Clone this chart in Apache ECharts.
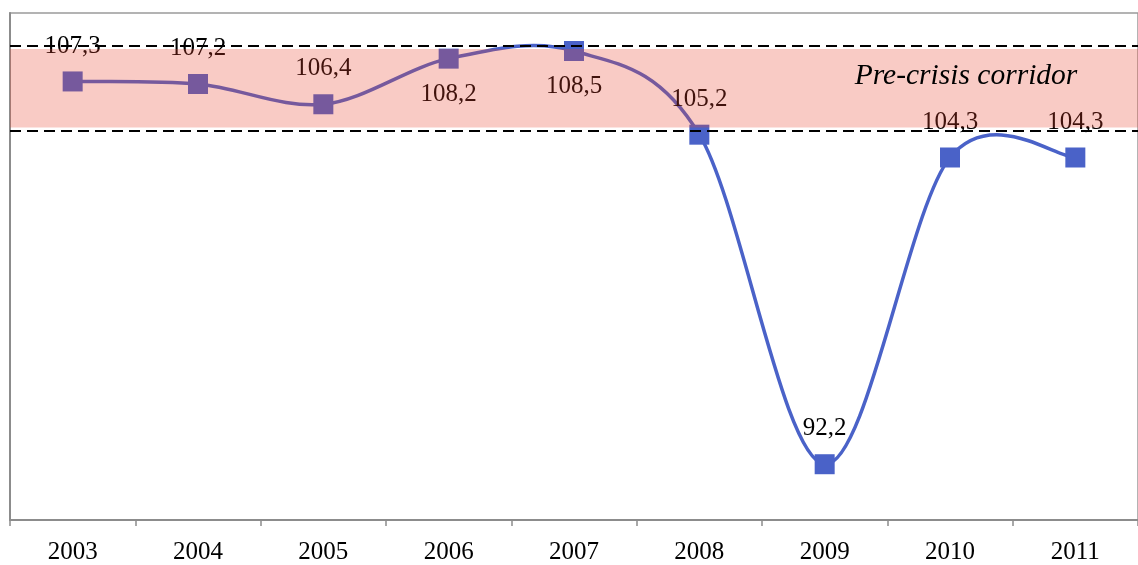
<!DOCTYPE html>
<html>
<head>
<meta charset="utf-8">
<script src="https://cdn.jsdelivr.net/npm/echarts@6/dist/echarts.min.js"></script>
<style>
html,body{margin:0;padding:0;background:#fff;}
#chart{width:1138px;height:565px;}
</style>
</head>
<body>
<div id="chart"></div>
<script>
var years = ['2003','2004','2005','2006','2007','2008','2009','2010','2011'];
var values = [107.3, 107.2, 106.4, 108.2, 108.5, 105.2, 92.2, 104.3, 104.3];
var labelPositions = ['top','top','top','bottom','bottom','top','top','top','top'];
var corridorBand = [105.48, 108.58];
var corridorLines = [105.37, 108.71];
var corridorText = 'Pre-crisis corridor';
var corridorTextAt = ['2010', 107.5];

var chart = echarts.init(document.getElementById('chart'));
var serif = '"Liberation Serif", "Times New Roman", serif';
var lineColor = '#4a62c8';

var lineData = values.map(function (v, i) {
  return { value: v, label: { position: labelPositions[i] } };
});

// Catmull-Rom style smoothed segment (Excel-like smoothing), drawn via axis scales
function renderSegment(params, api) {
  var i = params.dataIndex;
  var n = values.length;
  if (i >= n - 1) return null;
  function pt(j) {
    j = Math.max(0, Math.min(n - 1, j));
    return api.coord([j, values[j]]);
  }
  var p0 = pt(i - 1), p1 = pt(i), p2 = pt(i + 1), p3 = pt(i + 2);
  var t = 1 / 6;
  return {
    type: 'bezierCurve',
    shape: {
      x1: p1[0], y1: p1[1],
      x2: p2[0], y2: p2[1],
      cpx1: p1[0] + (p2[0] - p0[0]) * t,
      cpy1: p1[1] + (p2[1] - p0[1]) * t,
      cpx2: p2[0] - (p3[0] - p1[0]) * t,
      cpy2: p2[1] - (p3[1] - p1[1]) * t
    },
    style: { stroke: lineColor, lineWidth: 3.5, fill: null }
  };
}

chart.setOption({
  animation: false,
  backgroundColor: '#ffffff',
  grid: {
    left: 10, top: 13, bottom: 42, right: -12,
    show: true, borderColor: '#9a9a9a', borderWidth: 1.5, backgroundColor: 'transparent'
  },
  xAxis: {
    type: 'category',
    data: years,
    boundaryGap: true,
    axisLine: { show: true, lineStyle: { color: '#8c8c8c', width: 2 } },
    axisTick: { show: true, length: 6, lineStyle: { color: '#8c8c8c', width: 1.5 } },
    axisLabel: { color: '#000', fontFamily: serif, fontSize: 25, margin: 20 },
    splitLine: { show: false }
  },
  yAxis: {
    type: 'value',
    min: 90, max: 110,
    axisLine: { show: true, lineStyle: { color: '#8c8c8c', width: 2 } },
    axisTick: { show: false },
    axisLabel: { show: false },
    splitLine: { show: false }
  },
  series: [
    {
      type: 'custom',
      z: 1,
      silent: true,
      data: values.map(function (v, i) { return [i, v]; }),
      encode: { x: 0, y: 1 },
      renderItem: renderSegment
    },
    {
      type: 'line',
      z: 2,
      data: lineData,
      symbol: 'rect',
      symbolSize: 20,
      lineStyle: { width: 0, opacity: 0 },
      itemStyle: { color: lineColor },
      label: {
        show: true,
        color: '#000',
        fontFamily: serif,
        fontSize: 25,
        distance: 13,
        formatter: function (p) { return String(p.value).replace('.', ','); }
      }
    },
    {
      type: 'line',
      z: 10,
      data: [],
      silent: true,
      markArea: {
        silent: true,
        z: 20,
        itemStyle: { color: 'rgba(233,70,48,0.28)' },
        data: [[{ yAxis: corridorBand[0] }, { yAxis: corridorBand[1] }]]
      },
      markLine: {
        silent: true,
        z: 21,
        symbol: ['none', 'none'],
        label: { show: false },
        lineStyle: { color: '#000', type: [11, 6], width: 2 },
        data: corridorLines.map(function (v) { return { yAxis: v }; })
      },
      markPoint: {
        silent: true,
        z: 22,
        symbol: 'rect',
        symbolSize: 0,
        data: [{ coord: corridorTextAt, value: corridorText }],
        label: {
          show: true,
          position: 'inside',
          offset: [16, 0],
          formatter: corridorText,
          color: '#000',
          fontFamily: serif,
          fontStyle: 'italic',
          fontSize: 29.5
        }
      }
    }
  ]
});
</script>
</body>
</html>
